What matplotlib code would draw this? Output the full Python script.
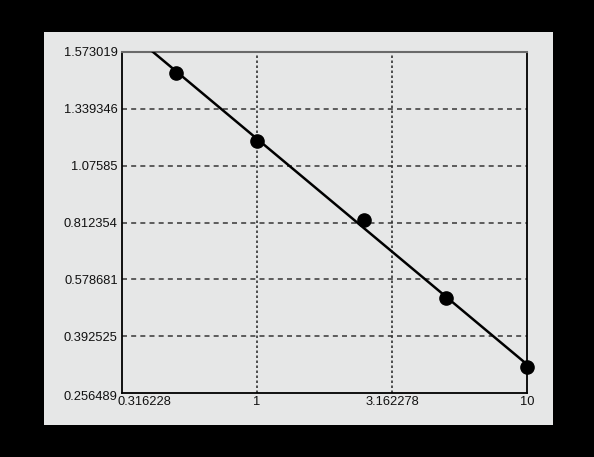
import numpy as np
import matplotlib
matplotlib.use("Agg")
import matplotlib.pyplot as plt
from matplotlib.patches import Rectangle
from matplotlib.transforms import ScaledTranslation

# Data
x_values = [0.5, 1.0, 2.5, 5.0, 10.0]
y_values = [1.493, 1.190, 0.8245, 0.512, 0.312]
x_ticks = [0.316228, 1.0, 3.162278, 10.0]
x_tick_labels = ["0.316228", "1", "3.162278", "10"]
y_ticks = [0.256489, 0.392525, 0.578681, 0.812354, 1.07585, 1.339346, 1.573019]
y_tick_labels = ["0.256489", "0.392525", "0.578681", "0.812354", "1.07585", "1.339346", "1.573019"]

M = 2.1517  # scale constant for the logit-type y axis


def fwd(y):
    y = np.asarray(y, dtype=float)
    p = np.clip(y / M, 1e-9, 1 - 1e-9)
    return np.log(p / (1 - p))


def inv(t):
    t = np.asarray(t, dtype=float)
    return M / (1 + np.exp(-t))


fig = plt.figure(figsize=(5.94, 4.57), dpi=100, facecolor="black")
W, H = 594, 457
fig.patches.append(Rectangle((44 / W, 1 - 425 / H), (553 - 44) / W, (425 - 32) / H,
                             transform=fig.transFigure, facecolor="#e6e7e7",
                             edgecolor="none", zorder=-5))

ax = fig.add_axes([122 / W, 1 - 393 / H, (527 - 122) / W, (393 - 52) / H])
ax.set_zorder(2)
ax.set_facecolor("#e6e7e7")
ax.set_xscale("log")
ax.set_yscale("function", functions=(fwd, inv))
ax.set_xlim(x_ticks[0], x_ticks[-1])
ax.set_ylim(y_ticks[0], y_ticks[-1])

# grid
for yv in y_ticks[1:-1]:
    ax.axhline(yv, color="#444444", lw=1.2, ls=(0, (3, 2.5)), zorder=1)
for xv in x_ticks[1:-1]:
    ax.axvline(xv, color="#333333", lw=1.2, ls=(0, (1.5, 1.5)), zorder=1)

# fitted line in transformed space
lx = np.log10(x_values)
ty = fwd(y_values)
slope, intercept = np.polyfit(lx, ty, 1)
xl = np.logspace(np.log10(x_ticks[0]), np.log10(x_ticks[-1]), 200)
yl = inv(slope * np.log10(xl) + intercept)
ax.plot(xl, yl, color="black", lw=1.8, zorder=3, clip_on=True)
ax.plot(x_values, y_values, "o", color="black", ms=9.5, zorder=4, clip_on=False)

ax.set_xticks(x_ticks)
ax.set_xticklabels(x_tick_labels)
ax.set_yticks(y_ticks)
ax.set_yticklabels(y_tick_labels)
ax.xaxis.set_minor_locator(matplotlib.ticker.NullLocator())
ax.yaxis.set_minor_locator(matplotlib.ticker.NullLocator())
ax.tick_params(length=0, labelsize=9.3, pad=3, labelcolor="#111111")
ax.tick_params(axis="x", pad=2)
for lab in ax.get_xticklabels():
    lab.set_fontfamily("Liberation Sans")
for lab in ax.get_yticklabels():
    lab.set_fontfamily("Liberation Sans")

first_x = ax.get_xticklabels()[0]
first_x.set_horizontalalignment("left")
first_x.set_transform(first_x.get_transform() + ScaledTranslation(-5 / 100, 0, fig.dpi_scale_trans))
first_y = ax.get_yticklabels()[0]
first_y.set_transform(first_y.get_transform() + ScaledTranslation(0, -3 / 100, fig.dpi_scale_trans))

for s in ["left", "bottom", "right"]:
    ax.spines[s].set_color("black")
    ax.spines[s].set_linewidth(1.3)
ax.spines["top"].set_color("#6a6a6a")
ax.spines["top"].set_linewidth(1.5)

fig.savefig("out.png", dpi=100, facecolor="black")
